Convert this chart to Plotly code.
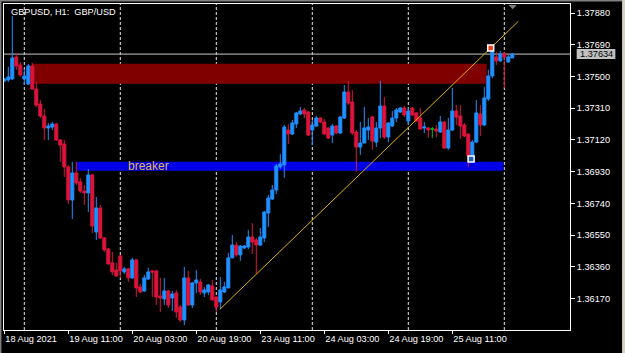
import plotly.graph_objects as go

# ---- data (GBPUSD H1, bar index 0 = 18 Aug 2021 19:00) ----
opens = [1.37473,1.37479,1.37485,1.37617,1.37569,1.37485,1.37455,1.37563,1.37425,1.37335,
         1.37263,1.37191,1.37197,1.37215,1.37119,1.37095,1.36958,1.36760,1.36922,1.36868,
         1.36814,1.36802,1.36910,1.36568,1.36712,1.36532,1.36466,1.36383,1.36341,1.36425,
         1.36329,1.36347,1.36293,1.36401,1.36239,1.36215,1.36287,1.36335,1.36335,1.36185,
         1.36167,1.36215,1.36173,1.36203,1.36119,1.36041,1.36293,1.36131,1.36263,1.36269,
         1.36203,1.36209,1.36245,1.36179,1.36149,1.36209,1.36233,1.36413,1.36490,1.36431,
         1.36472,1.36478,1.36538,1.36520,1.36490,1.36532,1.36682,1.36766,1.36820,1.36958,
         1.36970,1.37179,1.37155,1.37215,1.37275,1.37299,1.37287,1.37179,1.37203,1.37251,
         1.37227,1.37191,1.37149,1.37203,1.37161,1.37251,1.37407,1.37347,1.37167,1.37077,
         1.37101,1.37179,1.37257,1.37107,1.37191,1.37323,1.37137,1.37203,1.37251,1.37287,
         1.37311,1.37233,1.37311,1.37281,1.37251,1.37191,1.37191,1.37185,1.37185,1.37167,
         1.37227,1.37071,1.37179,1.37293,1.37263,1.37209,1.37155,1.37018,1.37107,1.37275,
         1.37209,1.37365,1.37503,1.37617,1.37593,1.37635,1.37587,1.37611]
highs = [1.37491,1.37557,1.37862,1.37641,1.37587,1.37545,1.37575,1.37581,1.37467,1.37359,
         1.37305,1.37221,1.37227,1.37221,1.37125,1.37119,1.36970,1.36988,1.36988,1.36892,
         1.36850,1.36946,1.36916,1.36778,1.36730,1.36538,1.36472,1.36449,1.36383,1.36431,
         1.36359,1.36353,1.36413,1.36407,1.36257,1.36311,1.36353,1.36341,1.36341,1.36293,
         1.36293,1.36221,1.36215,1.36221,1.36131,1.36359,1.36335,1.36269,1.36341,1.36287,
         1.36239,1.36257,1.36281,1.36179,1.36299,1.36269,1.36443,1.36550,1.36508,1.36490,
         1.36490,1.36580,1.36622,1.36532,1.36592,1.36694,1.36790,1.36850,1.36976,1.37036,
         1.37209,1.37215,1.37239,1.37287,1.37317,1.37311,1.37293,1.37239,1.37263,1.37257,
         1.37245,1.37197,1.37215,1.37209,1.37263,1.37449,1.37473,1.37419,1.37179,1.37227,
         1.37317,1.37251,1.37263,1.37227,1.37473,1.37377,1.37227,1.37293,1.37311,1.37317,
         1.37323,1.37311,1.37317,1.37287,1.37311,1.37227,1.37197,1.37197,1.37209,1.37263,
         1.37233,1.37251,1.37431,1.37329,1.37329,1.37221,1.37155,1.37119,1.37359,1.37329,
         1.37437,1.37539,1.37676,1.37647,1.37653,1.37647,1.37629,1.37641]
lows = [1.37467,1.37467,1.37479,1.37539,1.37497,1.37449,1.37449,1.37419,1.37317,1.37251,
        1.37119,1.37119,1.37179,1.37113,1.36988,1.36898,1.36736,1.36646,1.36850,1.36802,
        1.36730,1.36688,1.36562,1.36520,1.36526,1.36449,1.36371,1.36311,1.36299,1.36293,
        1.36317,1.36269,1.36287,1.36179,1.36203,1.36209,1.36281,1.36179,1.36131,1.36089,
        1.36131,1.36113,1.36095,1.36053,1.36029,1.36011,1.36125,1.36113,1.36203,1.36191,
        1.36179,1.36191,1.36161,1.36089,1.36107,1.36203,1.36233,1.36413,1.36419,1.36395,
        1.36466,1.36466,1.36437,1.36317,1.36484,1.36508,1.36598,1.36760,1.36796,1.36946,
        1.36892,1.37095,1.37149,1.37191,1.37269,1.37251,1.37143,1.37089,1.37197,1.37221,
        1.37149,1.37125,1.37101,1.37155,1.37155,1.37245,1.37329,1.37149,1.36928,1.37030,
        1.37101,1.37119,1.37060,1.37077,1.37131,1.37125,1.37107,1.37197,1.37227,1.37281,
        1.37257,1.37209,1.37263,1.37227,1.37179,1.37161,1.37131,1.37131,1.37137,1.37161,
        1.37065,1.37060,1.37173,1.37209,1.37125,1.37137,1.36958,1.37012,1.37101,1.37143,
        1.37203,1.37353,1.37491,1.37569,1.37587,1.37431,1.37581,1.37611]
closes = [1.37485,1.37497,1.37611,1.37563,1.37509,1.37503,1.37563,1.37425,1.37329,1.37263,
          1.37191,1.37203,1.37215,1.37119,1.37089,1.36958,1.36760,1.36922,1.36862,1.36814,
          1.36802,1.36910,1.36604,1.36712,1.36532,1.36461,1.36377,1.36329,1.36305,1.36335,
          1.36347,1.36293,1.36401,1.36233,1.36209,1.36293,1.36329,1.36329,1.36179,1.36173,
          1.36215,1.36131,1.36197,1.36089,1.36041,1.36293,1.36131,1.36263,1.36281,1.36209,
          1.36221,1.36251,1.36161,1.36119,1.36221,1.36239,1.36413,1.36490,1.36431,1.36484,
          1.36484,1.36538,1.36508,1.36490,1.36538,1.36688,1.36772,1.36820,1.36964,1.36976,
          1.37197,1.37155,1.37221,1.37281,1.37293,1.37275,1.37149,1.37209,1.37251,1.37227,
          1.37155,1.37131,1.37203,1.37161,1.37257,1.37407,1.37341,1.37161,1.37077,1.37101,
          1.37191,1.37197,1.37113,1.37191,1.37323,1.37137,1.37221,1.37251,1.37299,1.37311,
          1.37269,1.37293,1.37269,1.37233,1.37185,1.37197,1.37179,1.37185,1.37173,1.37227,
          1.37071,1.37179,1.37293,1.37257,1.37203,1.37143,1.37024,1.37107,1.37281,1.37209,
          1.37371,1.37503,1.37647,1.37593,1.37635,1.37617,1.37617,1.37634]

x_tick_idx = [0, 16, 32, 48, 64, 80, 96, 112]
x_tick_text = ["18 Aug 2021", "19 Aug 11:00", "20 Aug 03:00", "20 Aug 19:00",
               "23 Aug 11:00", "24 Aug 03:00", "24 Aug 19:00", "25 Aug 11:00"]
day_start_idx = [5, 29, 53, 77, 101, 125]
y_ticks = [1.36170, 1.36360, 1.36550, 1.36740, 1.36930, 1.37120, 1.37310, 1.37500, 1.37690, 1.37880]

supply_zone = [7, 120.6, 1.37456, 1.37576]     # x0, x1, y0, y1
breaker_zone = [18.1, 124.75, 1.36935, 1.36989]
trend_x = [53.9, 128.5]
trend_y = [1.36105, 1.37830]
sell_mark = [121.6, 1.37671]
buy_mark = [116.7, 1.37006]
last_price = closes[-1]

FONT = "Liberation Sans"
UP = "#1E90FF"
DN = "#DC143C"

n = len(opens)
idx = list(range(n))
main = [i for i in idx if opens[i] != closes[i]]
doji = [i for i in idx if opens[i] == closes[i]]

fig = go.Figure()
fig.add_trace(go.Candlestick(
    x=main, open=[opens[i] for i in main], high=[highs[i] for i in main],
    low=[lows[i] for i in main], close=[closes[i] for i in main],
    increasing=dict(line=dict(color=UP, width=1), fillcolor=UP),
    decreasing=dict(line=dict(color=DN, width=1), fillcolor=DN),
    whiskerwidth=0, hoverinfo="skip", showlegend=False))
fig.add_trace(go.Candlestick(
    x=doji, open=[opens[i] for i in doji], high=[highs[i] for i in doji],
    low=[lows[i] for i in doji], close=[closes[i] for i in doji],
    increasing=dict(line=dict(color="#00C000", width=1), fillcolor="#00C000"),
    decreasing=dict(line=dict(color="#00C000", width=1), fillcolor="#00C000"),
    whiskerwidth=0, hoverinfo="skip", showlegend=False))
fig.add_trace(go.Scatter(x=trend_x, y=trend_y, mode="lines",
                         line=dict(color="#E0B000", width=1), hoverinfo="skip", showlegend=False))
fig.add_trace(go.Scatter(x=[sell_mark[0]], y=[sell_mark[1]], mode="markers",
                         marker=dict(symbol="square", size=6, color="#F04020",
                                     line=dict(color="white", width=1.5)),
                         hoverinfo="skip", showlegend=False, cliponaxis=False))
fig.add_trace(go.Scatter(x=[buy_mark[0]], y=[buy_mark[1]], mode="markers",
                         marker=dict(symbol="square", size=6, color="#2060B0",
                                     line=dict(color="white", width=1.5)),
                         hoverinfo="skip", showlegend=False, cliponaxis=False))

shapes = []
shapes.append(dict(type="rect", xref="x", yref="y", x0=supply_zone[0], x1=supply_zone[1],
                   y0=supply_zone[2], y1=supply_zone[3], fillcolor="#800000",
                   line=dict(width=0), layer="below"))
shapes.append(dict(type="rect", xref="x", yref="y", x0=breaker_zone[0], x1=breaker_zone[1],
                   y0=breaker_zone[2], y1=breaker_zone[3], fillcolor="#0000E6",
                   line=dict(width=0), layer="below"))
for d in day_start_idx:
    shapes.append(dict(type="line", xref="x", yref="paper", x0=d, x1=d, y0=0, y1=1,
                       line=dict(color="#E8E8E8", width=1, dash="3px,2px"), layer="below"))
shapes.append(dict(type="line", xref="paper", yref="y", x0=0, x1=1, y0=last_price, y1=last_price,
                   line=dict(color="#C8C8C8", width=1), layer="below"))
# price label box on the axis
shapes.append(dict(type="rect", xref="paper", yref="y", x0=1.0118, x1=1.0801,
                   y0=last_price - 0.00030, y1=last_price + 0.00030,
                   fillcolor="#C0C0C0", line=dict(width=0)))
# chart shift triangle
shapes.append(dict(type="path", xref="paper", yref="paper",
                   path="M 0.8916 0.9969 L 0.9058 0.9969 L 0.8987 0.9838 Z",
                   fillcolor="#808080", line=dict(width=0)))
# window frame
shapes.append(dict(type="line", xref="paper", yref="paper", x0=-0.0063, x1=-0.0063, y0=-0.08, y1=1.012,
                   line=dict(color="#808080", width=2)))
shapes.append(dict(type="line", xref="paper", yref="paper", x0=-0.0063, x1=1.095, y0=1.0107, y1=1.0107,
                   line=dict(color="#808080", width=2)))
shapes.append(dict(type="rect", xref="paper", yref="paper", x0=1.092, x1=1.1, y0=-0.08, y1=1.012,
                   fillcolor="#D4D0C8", line=dict(width=0)))

annotations = [
    dict(xref="paper", yref="paper", x=0.0088, y=0.9755, xanchor="left", yanchor="middle",
         text="GBPUSD, H1:  GBP/USD", showarrow=False,
         font=dict(family=FONT, size=9.2, color="white")),
    dict(xref="x", yref="y", x=30.3, y=(breaker_zone[2] + breaker_zone[3]) / 2,
         xanchor="left", yanchor="middle", text="breaker", showarrow=False,
         font=dict(family=FONT, size=12, color="#E2B84A")),
    dict(xref="paper", yref="y", x=1.046, y=last_price, xanchor="center", yanchor="middle",
         text=f"{last_price:.5f}", showarrow=False,
         font=dict(family=FONT, size=9.2, color="black")),
]

fig.update_layout(
    width=625, height=353,
    margin=dict(l=4, r=55, t=4, b=23),
    paper_bgcolor="black", plot_bgcolor="black",
    shapes=shapes, annotations=annotations,
    boxgap=0.25, boxgroupgap=0,
    showlegend=False,
    font=dict(family=FONT, size=9.2, color="white"),
    xaxis=dict(range=[-0.075, 141.425], tickvals=x_tick_idx, ticktext=x_tick_text,
               ticks="outside", ticklen=3, tickcolor="white", ticklabelposition="outside right",
               tickfont=dict(family=FONT, size=9.2, color="white"),
               showgrid=False, zeroline=False, showline=True, linecolor="white", linewidth=1,
               mirror=True, rangeslider=dict(visible=False), fixedrange=True),
    yaxis=dict(range=[1.35981, 1.37934], side="right", tickvals=y_ticks,
               ticktext=[f"{v:.5f}" for v in y_ticks],
               ticks="outside", ticklen=4, tickcolor="white",
               tickfont=dict(family=FONT, size=9.2, color="white"),
               showgrid=False, zeroline=False, showline=True, linecolor="white", linewidth=1,
               mirror=True, fixedrange=True),
)

fig.write_html("out.html")
